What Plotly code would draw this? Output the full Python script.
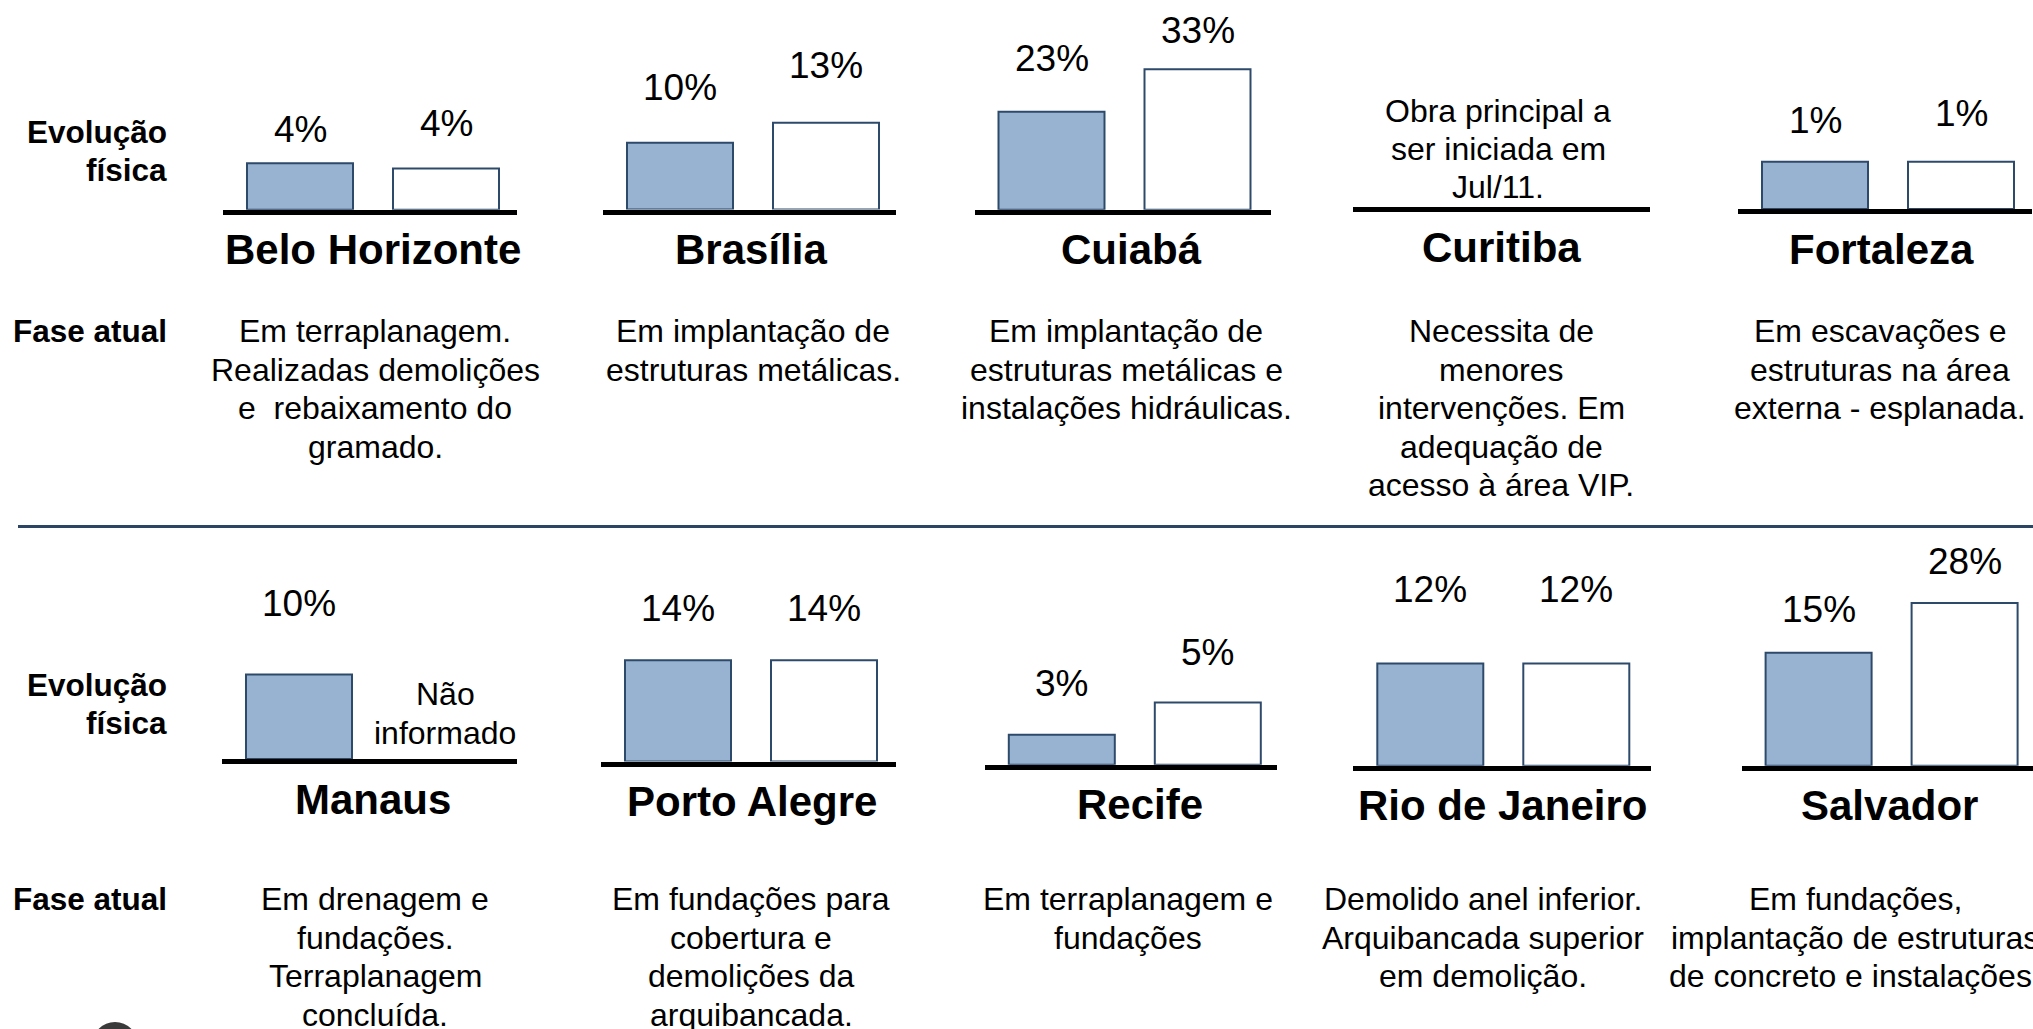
import plotly.graph_objects as go

# ---------------- data ----------------
cities = ["Belo Horizonte", "Brasília", "Cuiabá", "Curitiba", "Fortaleza",
          "Manaus", "Porto Alegre", "Recife", "Rio de Janeiro", "Salvador"]
evol_a = [4.4, 10, 23, None, 1, 10, 14, 2.6, 12, 15]     # filled (blue) bars, %
evol_b = [3.9, 13, 33, None, 1, None, 14, 5.4, 12, 28]   # outlined (white) bars, %

fase_atual = [
    ["Em terraplanagem.", "Realizadas demolições", "e\u00a0 rebaixamento do", "gramado."],
    ["Em implantação de", "estruturas metálicas."],
    ["Em implantação de", "estruturas metálicas e", "instalações hidráulicas."],
    ["Necessita de", "menores", "intervenções. Em", "adequação de", "acesso à área VIP."],
    ["Em escavações e", "estruturas na área", "externa - esplanada."],
    ["Em drenagem e", "fundações.", "Terraplanagem", "concluída."],
    ["Em fundações para", "cobertura e", "demolições da", "arquibancada."],
    ["Em terraplanagem e", "fundações"],
    ["Demolido anel inferior.", "Arquibancada superior", "em demolição."],
    ["Em fundações,", "implantação de estruturas", "de concreto e instalações."],
]
curitiba_note = ["Obra principal a", "ser iniciada em", "Jul/11."]
manaus_note = ["Não", "informado"]
row_label_evol = ["Evolução", "física"]
row_label_fase = "Fase atual"

# ---------------- layout / style ----------------
W, H = 2033, 1029
FONT = "Liberation Sans, Arial, sans-serif"
BLUE = "#98B3D1"
EDGE = "#2E4A6B"

# per panel: baseline left, right, baseline y, panel top, px per unit, axis floor,
# city centre x, description centre x, label offsets (px above bar top)
panels = [
    dict(L=223, R=516.5, Yb=212.3, T=10, s=10.59, f=0, cx=373, dx=375, la=34, lb=45),
    dict(L=603, R=895.5, Yb=212.0, T=10, s=6.68, f=0, cx=751, dx=753, la=55, lb=57),
    dict(L=974.5, R=1271.4, Yb=212.3, T=10, s=4.26, f=0, cx=1131, dx=1126, la=53, lb=39),
    dict(L=1353, R=1650, Yb=209.6, T=10, s=1.0, f=0, cx=1501, dx=1501, la=0, lb=0),
    dict(L=1738, R=2031.5, Yb=211.6, T=10, s=47.3, f=0, cx=1881, dx=1880, la=41, lb=48),
    dict(L=222, R=516.5, Yb=761.5, T=540, s=8.46, f=0, cx=373, dx=375, la=71, lb=0),
    dict(L=601, R=895.5, Yb=764.0, T=540, s=7.24, f=0, cx=752, dx=751, la=52, lb=52),
    dict(L=984.8, R=1277, Yb=767.2, T=540, s=11.5, f=0, cx=1140, dx=1128, la=51, lb=50),
    dict(L=1353.3, R=1650.6, Yb=768.2, T=540, s=8.51, f=0, cx=1502, dx=1483, la=74, lb=74),
    dict(L=1741.6, R=2033, Yb=768.2, T=540, s=3.827, f=-14.5, cx=1889, dx=1855, la=43, lb=42),
]
LINE_W = 5
BAR_W = 106 / 146.0
UNIT = 146.0
OFF = 77.0
PCT_SIZE = 37
DESC_SIZE = 32
CITY_SIZE = 42
ROW_SIZE = 31.5


def px(x):
    return x / W


def py(y):
    return 1 - y / H


fig = go.Figure()
annotations = []
layout_axes = {}

for i, p in enumerate(panels):
    k = i + 1
    xa = "x" if k == 1 else f"x{k}"
    ya = "y" if k == 1 else f"y{k}"
    bottom = p["Yb"] - LINE_W / 2
    xr = [-OFF / UNIT, (p["R"] - p["L"] - OFF) / UNIT]
    yr = [p["f"], p["f"] + (bottom - p["T"]) / p["s"]]
    layout_axes[("xaxis" if k == 1 else f"xaxis{k}")] = dict(
        domain=[px(p["L"]), px(p["R"])], range=xr, anchor=ya,
        showticklabels=False, showgrid=False, zeroline=False, ticks="",
        showline=True, linecolor="black", linewidth=LINE_W, fixedrange=True)
    layout_axes[("yaxis" if k == 1 else f"yaxis{k}")] = dict(
        domain=[py(bottom), py(p["T"])], range=yr, anchor=xa,
        visible=False, fixedrange=True)

    for j, (vals, col, shift) in enumerate([(evol_a, BLUE, p["la"]), (evol_b, "white", p["lb"])]):
        v = vals[i]
        xs = [j] if v is not None else []
        ys = [v - p["f"]] if v is not None else []
        fig.add_trace(go.Bar(
            x=xs, y=ys, base=p["f"], width=BAR_W, xaxis=xa, yaxis=ya,
            marker=dict(color=col, line=dict(color=EDGE, width=2)),
            showlegend=False, hoverinfo="skip"))
        if v is not None:
            annotations.append(dict(
                xref=xa, yref=ya, x=j, y=v, yshift=shift, text=f"{v:.0f}%",
                showarrow=False, yanchor="middle", xanchor="center",
                font=dict(family=FONT, size=PCT_SIZE, color="black")))

    # city name
    annotations.append(dict(
        xref="paper", yref="paper", x=px(p["cx"]), y=py(p["Yb"] + 37.5),
        text=f"<b>{cities[i]}</b>", showarrow=False, xanchor="center", yanchor="middle",
        font=dict(family=FONT, size=CITY_SIZE, color="black")))
    # description lines
    y0 = 331 if k <= 5 else 899
    for n, line in enumerate(fase_atual[i]):
        annotations.append(dict(
            xref="paper", yref="paper", x=px(p["dx"]), y=py(y0 + 38.5 * n),
            text=line, showarrow=False, xanchor="center", yanchor="middle",
            font=dict(family=FONT, size=DESC_SIZE, color="black")))

# Curitiba note
for n, line in enumerate(curitiba_note):
    annotations.append(dict(
        xref="paper", yref="paper", x=px(1498), y=py(111 + 38.2 * n), text=line,
        showarrow=False, xanchor="center", yanchor="middle",
        font=dict(family=FONT, size=DESC_SIZE, color="black")))
# Manaus note (missing second bar)
for n, line in enumerate(manaus_note):
    annotations.append(dict(
        xref="x6", yref="paper", x=1, y=py(694 + 39 * n), text=line,
        showarrow=False, xanchor="center", yanchor="middle",
        font=dict(family=FONT, size=DESC_SIZE, color="black")))

# row labels
for ybase, yf in [(132, 331), (685, 899)]:
    for n, line in enumerate(row_label_evol):
        annotations.append(dict(
            xref="paper", yref="paper", x=px(169), y=py(ybase + 38 * n),
            text=f"<b>{line}</b>", showarrow=False, xanchor="right", yanchor="middle",
            font=dict(family=FONT, size=ROW_SIZE, color="black")))
    annotations.append(dict(
        xref="paper", yref="paper", x=px(169), y=py(yf),
        text=f"<b>{row_label_fase}</b>", showarrow=False, xanchor="right", yanchor="middle",
        font=dict(family=FONT, size=ROW_SIZE, color="black")))

shapes = [
    dict(type="line", xref="paper", yref="paper", x0=px(18), x1=px(2033),
         y0=py(526.5), y1=py(526.5), line=dict(color="#2B4563", width=3)),
    dict(type="circle", xref="paper", yref="paper", x0=px(92), x1=px(138),
         y0=py(1022), y1=py(1068), fillcolor="#3a3a3a", line=dict(width=0)),
]

fig.update_layout(
    width=W, height=H, margin=dict(l=0, r=0, t=0, b=0),
    paper_bgcolor="white", plot_bgcolor="rgba(0,0,0,0)",
    barmode="overlay", showlegend=False,
    annotations=annotations, shapes=shapes, **layout_axes)

fig.write_html("out.html", config={"displayModeBar": False},
               post_script="document.body.style.margin='0';document.body.style.overflow='hidden';")
